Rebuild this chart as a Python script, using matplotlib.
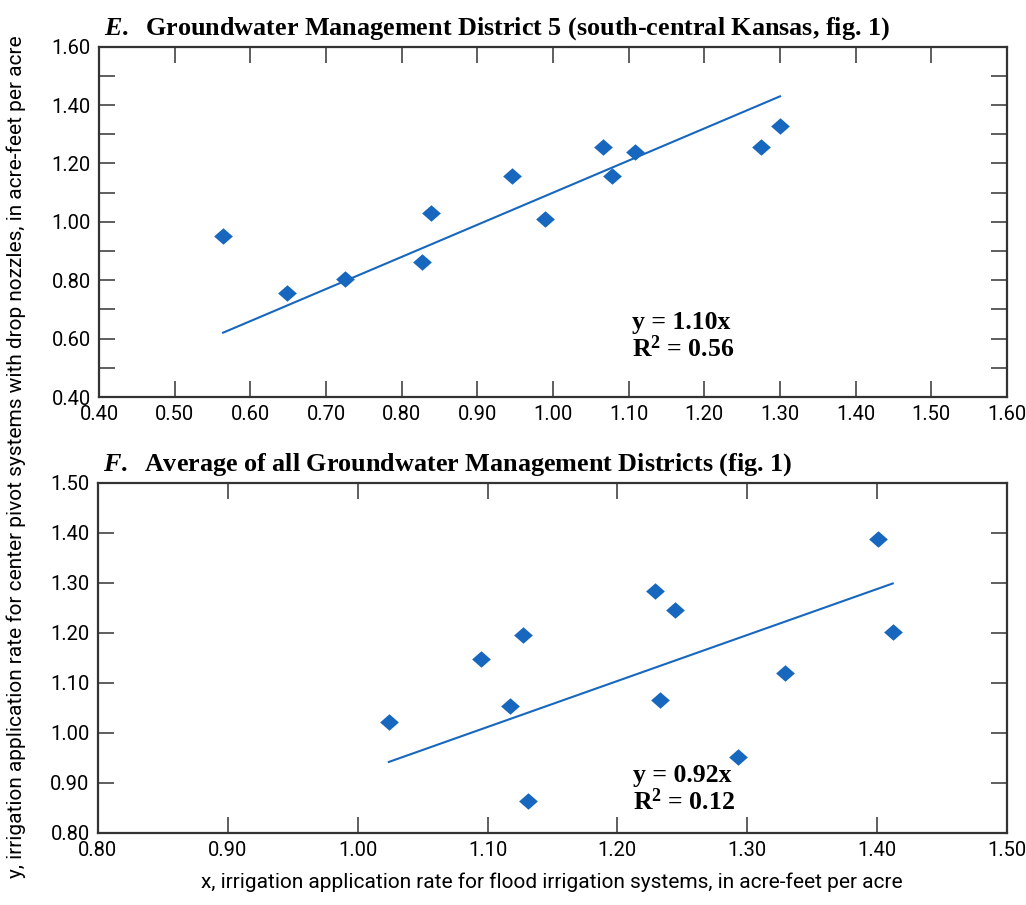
import numpy as np
import matplotlib.pyplot as plt
from matplotlib.ticker import MultipleLocator, FormatStrFormatter

# GMD 5 (south-central Kansas)
gmd5_flood = [0.564, 0.648, 0.725, 0.827, 0.839, 0.946, 0.989, 1.066, 1.078, 1.108, 1.275, 1.300]
gmd5_pivot = [0.952, 0.756, 0.804, 0.862, 1.030, 1.157, 1.010, 1.256, 1.157, 1.239, 1.256, 1.328]
gmd5_slope = 1.10
gmd5_r2 = 0.56

# average of all GMDs
avg_flood = [1.024, 1.095, 1.117, 1.127, 1.131, 1.229, 1.244, 1.233, 1.293, 1.329, 1.401, 1.412]
avg_pivot = [1.022, 1.148, 1.054, 1.196, 0.864, 1.284, 1.246, 1.066, 0.952, 1.120, 1.388, 1.202]
avg_slope = 0.92
avg_r2 = 0.12

BLUE = '#1667bd'
SPINE = '#333333'
TICK_FONT = ['Roboto', 'DejaVu Sans']
SERIF = ['Liberation Serif', 'DejaVu Serif']
DIAMOND = [(-1, 0), (0, 0.88), (1, 0), (0, -0.88), (-1, 0)]


def style_axes(ax, xlim, ylim, ylabel_step):
    ax.set_xlim(*xlim)
    ax.set_ylim(*ylim)
    ax.xaxis.set_major_locator(MultipleLocator(0.1))
    ax.xaxis.set_major_formatter(FormatStrFormatter('%.2f'))
    ax.yaxis.set_major_locator(MultipleLocator(ylabel_step))
    ax.yaxis.set_major_formatter(FormatStrFormatter('%.2f'))
    if ylabel_step > 0.1:
        ax.yaxis.set_minor_locator(MultipleLocator(0.1))
    ax.tick_params(which='both', direction='in', top=True, right=True,
                   length=11.5, width=1.1, color=SPINE, pad=6)
    ax.tick_params(labelsize=14.5)
    for lab in ax.get_xticklabels() + ax.get_yticklabels():
        lab.set_family(TICK_FONT)
    for sp in ax.spines.values():
        sp.set_linewidth(1.6)
        sp.set_color(SPINE)


def draw_panel(ax, x, y, slope, r2, title, eq_xy):
    x = np.asarray(x)
    xs = np.array([x.min(), x.max()])
    ax.plot(xs, slope * xs, color=BLUE, lw=1.5, zorder=2)
    ax.plot(x, y, ls='none', marker=DIAMOND, ms=13.5, color=BLUE,
            markeredgewidth=0, zorder=3)
    ax.text(0.005, 1.014, title, transform=ax.transAxes, ha='left', va='bottom',
            fontsize=18.8, fontweight='bold', family=SERIF)
    ax.text(eq_xy[0], eq_xy[1],
            f'y = {slope:.2f}x\n' + r'R$^{\mathbf{2}}$' + f' = {r2:.2f}',
            ha='left', va='center', fontsize=18.5, fontweight='bold',
            family=SERIF, linespacing=1.08)


def main() -> None:
    plt.rcParams['mathtext.fontset'] = 'custom'
    plt.rcParams['mathtext.bf'] = 'Liberation Serif:bold'
    plt.rcParams['mathtext.rm'] = 'Liberation Serif:bold'
    plt.rcParams['mathtext.it'] = 'Liberation Serif:italic:bold'

    fig = plt.figure(figsize=(10.26, 9.05), dpi=100)
    ax1 = fig.add_axes([0.0965, 0.5613, 0.885, 0.3871])
    ax2 = fig.add_axes([0.0955, 0.0796, 0.8860, 0.3867])

    style_axes(ax1, (0.40, 1.60), (0.40, 1.60), 0.2)
    style_axes(ax2, (0.80, 1.50), (0.80, 1.50), 0.1)

    draw_panel(ax1, gmd5_flood, gmd5_pivot, gmd5_slope, gmd5_r2,
               r'$\mathit{E.}$  Groundwater Management District 5 (south-central Kansas, fig. 1)',
               (1.105, 0.607))
    draw_panel(ax2, avg_flood, avg_pivot, avg_slope, avg_r2,
               r'$\mathit{F.}$  Average of all Groundwater Management Districts (fig. 1)',
               (1.212, 0.887))

    fig.text(0.538, 0.025,
             'x, irrigation application rate for flood irrigation systems, in acre-feet per acre',
             ha='center', va='center', fontsize=15, family=TICK_FONT)
    fig.text(0.016, 0.495,
             'y, irrigation application rate for center pivot systems with drop nozzles, in acre-feet per acre',
             ha='center', va='center', rotation=90, fontsize=15, family=TICK_FONT)

    fig.savefig('out.png', dpi=100)


if __name__ == '__main__':
    main()
